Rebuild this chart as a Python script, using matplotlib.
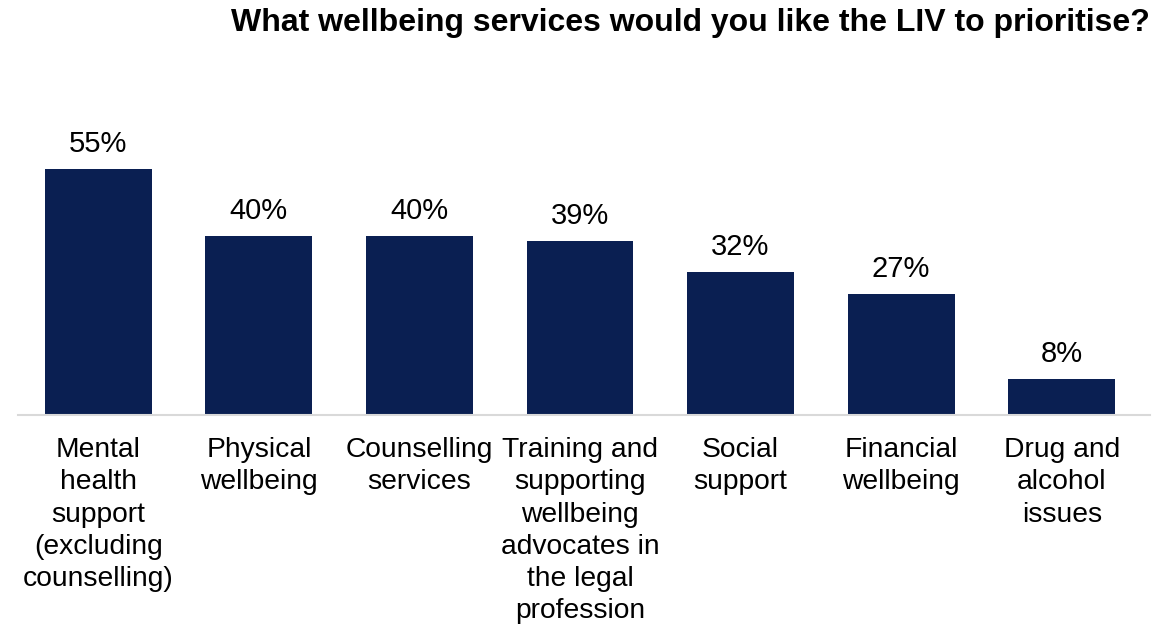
import matplotlib.pyplot as plt

plt.rcParams['font.family'] = ['Liberation Sans', 'DejaVu Sans']

categories = [
    "Mental\nhealth\nsupport\n(excluding\ncounselling)",
    "Physical\nwellbeing",
    "Counselling\nservices",
    "Training and\nsupporting\nwellbeing\nadvocates in\nthe legal\nprofession",
    "Social\nsupport",
    "Financial\nwellbeing",
    "Drug and\nalcohol\nissues",
]
values = [55, 40, 40, 39, 32, 27, 8]

bar_color = "#0a1f52"

fig = plt.figure(figsize=(11.63, 6.25), dpi=100)
ax = fig.add_axes([18 / 1163, 1 - 415 / 625, (1150 - 18) / 1163, 0.5008])

x = range(len(values))
ax.bar(x, values, width=0.665, color=bar_color)

for xi, v in zip(x, values):
    ax.annotate(f"{v}%", (xi, v), xytext=(0, 8), textcoords="offset points",
                ha="center", va="bottom", fontsize=21)

ax.set_xlim(-0.5, 6.55)
ax.set_ylim(0, 70)
ax.set_yticks([])
ax.set_xticks(list(x))
ax.set_xticklabels(categories, fontsize=20.3, linespacing=1.31)
ax.tick_params(axis="x", length=0, pad=16)

for side in ["top", "left", "right"]:
    ax.spines[side].set_visible(False)
ax.spines["bottom"].set_color("#d9d9d9")
ax.spines["bottom"].set_linewidth(1.5)

fig.text(1150 / 1163, 1 - 31 / 625, "What wellbeing services would you like the LIV to prioritise?",
         ha="right", va="baseline", fontsize=23, fontweight="bold")

fig.savefig("out.png", dpi=100)
